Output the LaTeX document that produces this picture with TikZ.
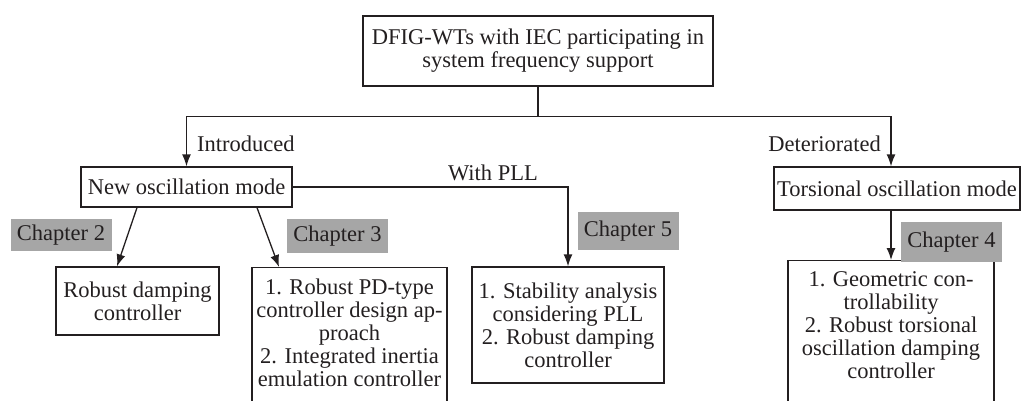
\documentclass[tikz,border=0pt]{standalone}
\usepackage{fontspec}
\setmainfont{Liberation Serif}
\usetikzlibrary{arrows.meta,positioning}
\definecolor{inkdark}{HTML}{231F20}
\definecolor{tagfill}{HTML}{A6A6A6}
\begin{document}
\begin{tikzpicture}
    [
        x=1pt,y=-1pt,
        every node/.style={font=\fontsize{22.5pt}{23pt}\selectfont,text=inkdark},
        Box/.style={rectangle,draw=inkdark,line width=1.3pt,align=center,inner xsep=2pt,inner ysep=4pt},
        OpenBox/.style={Box,anchor=north,inner ysep=11pt},
        Tag/.style={rectangle,fill=tagfill,minimum width=101pt,minimum height=34pt},
        Note/.style={inner sep=1pt},
        Link/.style={draw=inkdark,line width=1.3pt},
        Arrow/.style={Link,-{Latex[length=12pt,width=9pt]}}
    ]
    \clip (0,0) rectangle (1027,401);

    \node[Box,minimum width=350pt,minimum height=70pt] (dfigIec) at (538,51) {DFIG-WTs with IEC participating in\\system frequency support};
    \node[Box,minimum width=211pt,minimum height=40pt] (newMode) at (186.5,187) {New oscillation mode};
    \node[Box,minimum width=246pt,minimum height=43pt] (torsMode) at (897,188.5) {Torsional oscillation mode};

    \node[Box,minimum width=163pt,minimum height=68pt] (robDamp) at (137.5,301) {Robust damping\\controller};
    \node[OpenBox,minimum width=195pt] (pdType) at (349.5,267) {1. Robust PD-type\\controller design ap-\\proach\\2. Integrated inertia\\emulation controller\\~};
    \node[Box,minimum width=192pt,minimum height=116pt] (pllStab) at (568,325) {1. Stability analysis\\considering PLL\\2. Robust damping\\controller};
    \node[OpenBox,minimum width=206pt] (geoCtrl) at (891,260) {1. Geometric con-\\trollability\\2. Robust torsional\\oscillation damping\\controller\\~};

    \node[Tag,minimum height=32pt] (chapTwo) at (61,235) {Chapter 2};
    \node[Tag] (chapThree) at (337.5,236) {Chapter 3};
    \node[Tag,minimum height=38pt] (chapFive) at (628,231) {Chapter 5};
    \node[Tag,minimum height=40pt] (chapFour) at (951.5,242) {Chapter 4};

    \node[Note,anchor=west] (introLbl) at (196,144) {Introduced};
    \node[Note,anchor=east] (detLbl) at (882,144) {Deteriorated};
    \node[Note] (pllLbl) at (493,173) {With PLL};

    % split into the two modes
    \draw[Link] (dfigIec.south) -- ++(0,30) coordinate (split);
    \draw[Arrow] (split) -| (newMode);
    \draw[Arrow] (split) -| ([xshift=-6pt]torsMode.north);

    \draw[Arrow] (newMode.east) -| (pllStab);
    \draw[Arrow] ([xshift=-49.5pt]newMode.south) -- ([xshift=-20.5pt]robDamp.north);
    \draw[Arrow] ([xshift=70.5pt]newMode.south) -- ([xshift=-70.5pt]pdType.north);
    \draw[Arrow] ([xshift=-6pt]torsMode.south) -- (geoCtrl.north);
\end{tikzpicture}
\end{document}
